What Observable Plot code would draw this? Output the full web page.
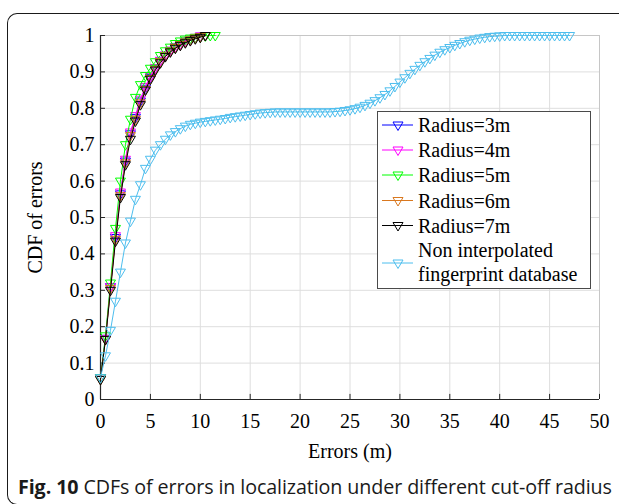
<!DOCTYPE html>
<html>
<head>
<meta charset="utf-8">
<script src="https://cdn.jsdelivr.net/npm/d3@7"></script>
<script src="https://cdn.jsdelivr.net/npm/@observablehq/plot@0.6"></script>
<style>
  html, body { margin: 0; padding: 0; background: #fff; }
  #wrap { position: relative; width: 619px; height: 504px; overflow: hidden; background: #fff; }
  #frame { position: absolute; left: 7px; top: 13px; width: 660px; height: 492px;
           border-left: 1.6px solid #1a1a1a; border-top: 1.6px solid #1a1a1a; border-bottom: 1.6px solid #1a1a1a;
           border-top-left-radius: 10px; border-bottom-left-radius: 10px; box-sizing: border-box; }
  #chart { position: absolute; left: 0; top: 0; }
  #legend { position: absolute; left: 0; top: 0; }
  #legend text { font-family: "Liberation Serif", "Times New Roman", serif; font-size: 20px; fill: #000; }
  #caption { position: absolute; left: 18px; top: 473px; font-family: "Open Sans", "Noto Sans", sans-serif;
             font-size: 19.7px; color: #1a1a1a; white-space: nowrap; letter-spacing: -0.1px; }
  #caption b { font-weight: 700; }
</style>
</head>
<body>
<div id="wrap">
  <div id="frame"></div>
  <div id="chart"></div>
  <svg id="legend" width="619" height="470"></svg>
  <div id="caption"><b>Fig. 10</b> CDFs of errors in localization under different cut-off radius</div>
</div>
<script>
// ---- Data ----
const xTicks = [0, 5, 10, 15, 20, 25, 30, 35, 40, 45, 50];
const xTickLabels = ["0", "5", "10", "15", "20", "25", "30", "35", "40", "45", "50"];
const yTicks = [0, 0.1, 0.2, 0.3, 0.4, 0.5, 0.6, 0.7, 0.8, 0.9, 1];
const yTickLabels = ["0", "0.1", "0.2", "0.3", "0.4", "0.5", "0.6", "0.7", "0.8", "0.9", "1"];

const seriesNames = ["Radius=3m", "Radius=4m", "Radius=5m", "Radius=6m", "Radius=7m", "Non interpolated fingerprint database"];
const seriesColors = ["#0000ff", "#ff00ff", "#00ff00", "#d9781f", "#000000", "#4dbeee"];

const radiusX = [0, 0.5, 1, 1.5, 2, 2.5, 3, 3.5, 4, 4.5, 5, 5.5, 6, 6.5, 7, 7.5, 8, 8.5, 9, 9.5, 10, 10.5];
const radius5X = [0, 0.5, 1, 1.5, 2, 2.5, 3, 3.5, 4, 4.5, 5, 5.5, 6, 6.5, 7, 7.5, 8, 8.5, 9, 9.5, 10, 10.5, 11, 11.5];

const radius3Y = [0.06, 0.168, 0.31, 0.445, 0.565, 0.655, 0.73, 0.775, 0.82, 0.855, 0.885, 0.91, 0.93, 0.945, 0.958, 0.968, 0.976, 0.983, 0.989, 0.994, 0.998, 1.0];
const radius4Y = [0.06, 0.168, 0.31, 0.45, 0.57, 0.66, 0.735, 0.78, 0.825, 0.86, 0.888, 0.912, 0.932, 0.947, 0.96, 0.97, 0.978, 0.985, 0.99, 0.995, 0.999, 1.0];
const radius5Y = [0.06, 0.175, 0.32, 0.47, 0.6, 0.7, 0.77, 0.83, 0.865, 0.89, 0.91, 0.928, 0.945, 0.958, 0.968, 0.978, 0.985, 0.99, 0.993, 0.995, 0.997, 0.999, 1.0, 1.0];
const radius6Y = [0.055, 0.165, 0.305, 0.44, 0.56, 0.65, 0.725, 0.77, 0.815, 0.852, 0.882, 0.907, 0.928, 0.944, 0.957, 0.967, 0.975, 0.982, 0.988, 0.993, 0.997, 1.0];
const radius7Y = [0.055, 0.165, 0.3, 0.435, 0.555, 0.645, 0.715, 0.765, 0.81, 0.85, 0.88, 0.905, 0.925, 0.942, 0.955, 0.965, 0.973, 0.98, 0.986, 0.991, 0.995, 1.0];

const nonInterpX = [0, 0.5, 1, 1.5, 2, 2.5, 3, 3.5, 4, 4.5, 5, 5.5, 6, 6.5, 7, 7.5, 8, 8.5, 9, 9.5,
  10, 10.5, 11, 11.5, 12, 12.5, 13, 13.5, 14, 14.5, 15, 15.5, 16, 16.5, 17, 17.5, 18, 18.5, 19, 19.5,
  20, 20.5, 21, 21.5, 22, 22.5, 23, 23.5, 24, 24.5, 25, 25.5, 26, 26.5, 27, 27.5, 28, 28.5, 29, 29.5,
  30, 30.5, 31, 31.5, 32, 32.5, 33, 33.5, 34, 34.5, 35, 35.5, 36, 36.5, 37, 37.5, 38, 38.5, 39, 39.5,
  40, 40.5, 41, 41.5, 42, 42.5, 43, 43.5, 44, 44.5, 45, 45.5, 46, 46.5, 47];
const nonInterpY = [0.06, 0.12, 0.19, 0.27, 0.35, 0.43, 0.49, 0.55, 0.59, 0.635, 0.66, 0.685, 0.70, 0.715, 0.727, 0.736, 0.744, 0.751, 0.756, 0.759,
  0.762, 0.764, 0.766, 0.768, 0.77, 0.772, 0.775, 0.777, 0.779, 0.781, 0.783, 0.785, 0.787, 0.788, 0.789, 0.79, 0.79, 0.79, 0.79, 0.79,
  0.79, 0.79, 0.79, 0.79, 0.79, 0.79, 0.79, 0.791, 0.792, 0.794, 0.796, 0.799, 0.803, 0.808, 0.814, 0.821, 0.829, 0.838, 0.848, 0.86,
  0.872, 0.884, 0.896, 0.907, 0.918, 0.928, 0.937, 0.946, 0.954, 0.961, 0.967, 0.973, 0.978, 0.983, 0.987, 0.99, 0.993, 0.995, 0.997, 0.998,
  0.999, 1.0, 1.0, 1.0, 1.0, 1.0, 1.0, 1.0, 1.0, 1.0, 1.0, 1.0, 1.0, 1.0, 1.0];

// ---- Build tables ----
const seriesX = [radiusX, radiusX, radius5X, radiusX, radiusX, nonInterpX];
const seriesY = [radius3Y, radius4Y, radius5Y, radius6Y, radius7Y, nonInterpY];
const tables = seriesY.map((ys, i) => ys.map((y, j) => ({x: seriesX[i][j], y})));

// Downward-pointing open triangle (MATLAB 'v'), centred on its centroid
const triDown = {
  draw(context, size) {
    const s = Math.sqrt(size / Math.PI);
    context.moveTo(-s, -s * 0.6);
    context.lineTo(s, -s * 0.6);
    context.lineTo(0, s * 1.1);
    context.closePath();
  }
};

const axisColor = "#262626";
const seriesMarks = [];
tables.forEach((t, i) => {
  seriesMarks.push(Plot.line(t, {x: "x", y: "y", stroke: seriesColors[i], strokeWidth: 1}));
  seriesMarks.push(Plot.dot(t, {x: "x", y: "y", stroke: seriesColors[i], fill: "none", symbol: triDown, r: 5, strokeWidth: 1}));
});

const chart = Plot.plot({
  width: 619,
  height: 470,
  marginLeft: 100,
  marginRight: 20,
  marginTop: 35,
  marginBottom: 71,
  style: {fontFamily: "'Liberation Serif', 'Times New Roman', serif", fontSize: "20px", color: "#000", background: "transparent"},
  x: {domain: [0, 50]},
  y: {domain: [0, 1]},
  marks: [
    Plot.gridX(xTicks, {stroke: "#dedede", strokeOpacity: 1}),
    Plot.gridY(yTicks, {stroke: "#dedede", strokeOpacity: 1}),
    Plot.ruleY([1], {stroke: "#c6c6c6"}),
    Plot.ruleX([50], {stroke: "#c6c6c6"}),
    Plot.ruleX([0], {stroke: axisColor, strokeWidth: 1.2}),
    Plot.ruleY([0], {stroke: axisColor, strokeWidth: 1.2}),
    Plot.ruleY(yTicks, {x1: 0, x2: 0.5, stroke: axisColor}),
    Plot.ruleX(xTicks, {y1: 0, y2: 0.014, stroke: axisColor}),
    Plot.axisX(xTicks, {tickSize: 0, tickPadding: 14, tickFormat: (d, i) => xTickLabels[i],
      label: "Errors (m)", labelAnchor: "center", labelOffset: 58, labelArrow: "none", fill: "#000"}),
    Plot.axisY(yTicks, {tickSize: 0, tickPadding: 6, tickFormat: (d, i) => yTickLabels[i],
      label: "CDF of errors", labelAnchor: "center", labelOffset: 73, labelArrow: "none", fill: "#000"}),
    ...seriesMarks
  ]
});
document.getElementById("chart").appendChild(chart);

// ---- Legend (inside plot, upper right) ----
const leg = d3.select("#legend");
const lx = 377, ly = 111, lw = 213, lh = 177;
leg.append("rect").attr("x", lx + 0.5).attr("y", ly + 0.5).attr("width", lw).attr("height", lh)
  .attr("fill", "#fff").attr("stroke", "#4a4a4a").attr("stroke-width", 1);
const rowY = [125, 150, 175, 200.5, 225.5, 263];
seriesNames.forEach((name, i) => {
  const cy = rowY[i];
  leg.append("line").attr("x1", 382).attr("x2", 413).attr("y1", cy).attr("y2", cy)
    .attr("stroke", seriesColors[i]).attr("stroke-width", 1);
  const s = 5;
  leg.append("path").attr("d", `M${398 - s},${cy - s * 0.6}L${398 + s},${cy - s * 0.6}L398,${cy + s * 1.1}Z`)
    .attr("fill", "none").attr("stroke", seriesColors[i]).attr("stroke-width", 1);
  const txt = leg.append("text").attr("x", 418);
  if (i < 5) {
    txt.attr("y", cy).attr("dy", "0.35em").text(name);
  } else {
    txt.append("tspan").attr("x", 418).attr("y", 250).attr("dy", "0.35em").text("Non interpolated");
    txt.append("tspan").attr("x", 418).attr("y", 274).attr("dy", "0.35em").text("fingerprint database");
  }
});
</script>
</body>
</html>
